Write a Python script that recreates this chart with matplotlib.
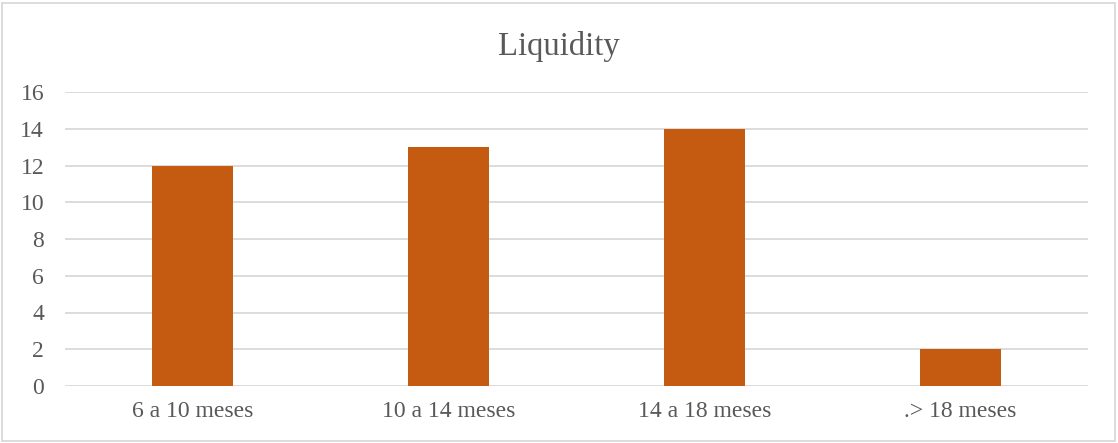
import matplotlib.pyplot as plt
from matplotlib.patches import Rectangle

categories = ["6 a 10 meses", "10 a 14 meses", "14 a 18 meses", ".> 18 meses"]
values = [12, 13, 14, 2]
yticks = [0, 2, 4, 6, 8, 10, 12, 14, 16]

plt.rcParams['font.family'] = ['Liberation Serif', 'DejaVu Serif']

fig = plt.figure(figsize=(11.18, 4.43), dpi=100)
ax = fig.add_axes([65 / 1118, 1 - 386 / 443, 1023 / 1118, 294 / 443])

x = range(len(categories))
ax.bar(x, values, width=0.316, color="#C55A11", zorder=3)

ax.set_xlim(-0.5, len(categories) - 0.5)
ax.set_ylim(0, 16)
ax.set_yticks(yticks)
ax.set_xticks(list(x))
ax.set_xticklabels(categories)
ax.tick_params(axis="both", length=0, labelsize=17, colors="#595959")
ax.tick_params(axis="y", pad=15)
ax.tick_params(axis="x", pad=11)
ax.grid(axis="y", color="#D9D9D9", linewidth=1.3, zorder=0)
for s in ax.spines.values():
    s.set_visible(False)

fig.text(0.5, 1 - 46 / 443, "Liquidity", ha="center", va="center",
         fontsize=23.5, color="#595959")

# light frame round the chart
fig.patches.append(Rectangle((2 / 1118, 2 / 443), 1113 / 1118, 438 / 443,
                             transform=fig.transFigure, fill=False,
                             edgecolor="#D9D9D9", linewidth=1.3))

fig.savefig("out.png", dpi=100)
